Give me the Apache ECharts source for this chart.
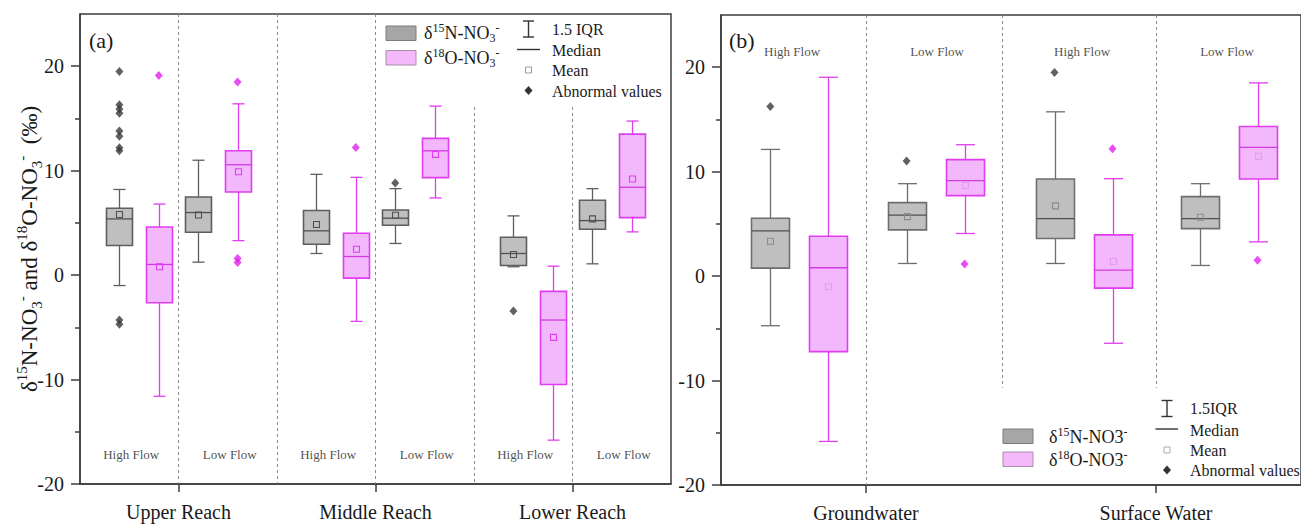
<!DOCTYPE html>
<html>
<head>
<meta charset="utf-8">
<script src="https://cdn.jsdelivr.net/npm/echarts@6.0.0/dist/echarts.min.js"></script>
<style>html,body{margin:0;padding:0;background:#fff;}#c{width:1301px;height:528px;}</style>
</head>
<body>
<div id="c"></div>
<script>
// ---------------- DATA ----------------
const reachesA = ['Upper Reach', 'Middle Reach', 'Lower Reach'];
const sourcesB = ['Groundwater', 'Surface Water'];
const flowNames = ['High Flow', 'Low Flow'];
const yTicks = [-20, -10, 0, 10, 20];
const yMinorTicks = [-15, -5, 5, 15];

// Panel (a): groups = Upper High, Upper Low, Middle High, Middle Low, Lower High, Lower Low
// stats: [whisker low, Q1, median, Q3, whisker high]
const aN = [[-1.0, 2.83, 5.38, 6.4, 8.2], [1.24, 4.1, 5.99, 7.48, 11.0], [2.07, 2.96, 4.24, 6.18, 9.65],
            [3.03, 4.78, 5.45, 6.24, 8.28], [0.8, 0.92, 2.07, 3.63, 5.67], [1.08, 4.39, 5.22, 7.17, 8.28]];
const aNmean = [5.8, 5.76, 4.84, 5.73, 1.97, 5.38];
const aNout = [[19.5, 16.3, 15.9, 15.5, 13.8, 13.3, 12.2, 11.9, -4.3, -4.7], [], [], [8.82], [-3.44], []];
const aO = [[-11.6, -2.64, 1.02, 4.6, 6.8], [3.3, 7.96, 10.57, 11.9, 16.4], [-4.43, -0.29, 1.78, 4.01, 9.36],
            [7.39, 9.33, 11.9, 13.09, 16.18], [-15.8, -10.48, -4.3, -1.56, 0.86], [4.14, 5.5, 8.41, 13.5, 14.75]];
const aOmean = [0.8, 9.9, 2.48, 11.56, -5.96, 9.2];
const aOout = [[19.1], [18.5, 1.6, 1.2], [12.23], [], [], []];

// Panel (b): groups = GW High, GW Low, SW High, SW Low
const bN = [[-4.75, 0.76, 4.33, 5.54, 12.13], [1.21, 4.43, 5.83, 7.04, 8.85],
            [1.21, 3.6, 5.51, 9.3, 15.73], [1.02, 4.55, 5.51, 7.61, 8.85]];
const bNmean = [3.34, 5.7, 6.72, 5.64];
const bNout = [[16.24], [11.02], [19.49], []];
const bO = [[-15.83, -7.23, 0.8, 3.82, 19.04], [4.08, 7.71, 9.14, 11.15, 12.58],
            [-6.43, -1.15, 0.57, 3.95, 9.33], [3.28, 9.3, 12.32, 14.33, 18.5]];
const bOmean = [-1.02, 8.69, 1.4, 11.46];
const bOout = [[], [1.15], [12.2], [1.53]];

// ---------------- LAYOUT (positions on the hidden x scale) ----------------
const L = {
  aNx: [1, 3, 6, 8, 11, 13], aOx: [2, 4, 7, 9, 12, 14],
  bNx: [1.7, 6.4, 11.5, 16.5], bOx: [3.7, 8.4, 13.5, 18.5],
  aCat: [2.5, 7.5, 12.5], bCat: [5, 15],
  aFlowX: [1.3, 3.8, 6.3, 8.8, 11.3, 13.8], aFlowY: -17.2,
  bFlowX: [2.45, 7.45, 12.45, 17.45], bFlowY: 21.5,
  aDashFull: [2.5, 5, 7.5], aDashPart: [10, 12.5], aDashPartTop: 16.1,
  bDashFull: [5], bDashPart: [9.7, 15], bDashPartBottom: -10.7
};

const FONT = 'Liberation Serif, Times New Roman, serif';
const C = {
  nFill: '#bfbfbf', nStroke: '#5e5e5e', nMed: '#505050', nOut: '#3a3a3a',
  oFill: '#f2b8fb', oStroke: '#e03cf0', oMed: '#d43ae4', oOut: '#e21ff0',
  axis: '#3c3c3c', dash: '#8a8a8a', text: '#1a1a1a'
};

function boxData(xs, stats, means) {
  return stats.map((s, i) => [xs[i], s[0], s[1], s[2], s[3], s[4], means[i]]);
}
function outData(xs, outs) {
  const r = [];
  outs.forEach((arr, i) => arr.forEach(v => r.push([xs[i], v])));
  return r;
}
function makeRender(boxW, capW, stroke, fill, med, meanC, lw) {
  return function (params, api) {
    const x = api.value(0);
    const lo = api.coord([x, api.value(1)]);
    const q1 = api.coord([x, api.value(2)]);
    const md = api.coord([x, api.value(3)]);
    const q3 = api.coord([x, api.value(4)]);
    const hi = api.coord([x, api.value(5)]);
    const mn = api.coord([x, api.value(6)]);
    const cx = Math.round(lo[0]) + 0.5;
    const hw = boxW / 2, hc = capW / 2;
    const ls = { stroke: stroke, lineWidth: lw };
    return {
      type: 'group', children: [
        { type: 'line', shape: { x1: cx, y1: q3[1], x2: cx, y2: hi[1] }, style: ls },
        { type: 'line', shape: { x1: cx, y1: q1[1], x2: cx, y2: lo[1] }, style: ls },
        { type: 'line', shape: { x1: cx - hc, y1: hi[1], x2: cx + hc, y2: hi[1] }, style: ls },
        { type: 'line', shape: { x1: cx - hc, y1: lo[1], x2: cx + hc, y2: lo[1] }, style: ls },
        { type: 'rect', shape: { x: cx - hw, y: q3[1], width: boxW, height: q1[1] - q3[1] },
          style: { fill: fill, stroke: stroke, lineWidth: lw + 0.3 } },
        { type: 'line', shape: { x1: cx - hw, y1: md[1], x2: cx + hw, y2: md[1] }, style: { stroke: med, lineWidth: lw } },
        { type: 'rect', shape: { x: cx - 3, y: mn[1] - 3, width: 6, height: 6 },
          style: { fill: 'none', stroke: meanC, lineWidth: 1.1 } }
      ]
    };
  };
}
function dashLines(full, part, top, bottom) {
  const d = [];
  full.forEach(x => d.push([{ coord: [x, 25] }, { coord: [x, -20] }]));
  part.forEach(x => d.push([{ coord: [x, top] }, { coord: [x, bottom] }]));
  return d;
}
function flowData(xs, y) {
  return xs.map((x, i) => [x, y, flowNames[i % 2]]);
}

const axisLineStyle = { color: C.axis, width: 1.5 };
function yAxes(grid) {
  const main = {
    gridIndex: grid, type: 'value', min: -20, max: 25, position: 'left',
    axisLine: { show: true, onZero: false, lineStyle: axisLineStyle },
    axisTick: { show: true, length: 9, customValues: yTicks, lineStyle: axisLineStyle },
    axisLabel: { customValues: yTicks, margin: 16, fontSize: 20, fontFamily: FONT, color: C.text },
    splitLine: { show: false }
  };
  const minor = {
    gridIndex: grid, type: 'value', min: -20, max: 25, position: 'left',
    axisLine: { show: false, onZero: false },
    axisTick: { show: true, length: 5, customValues: yMinorTicks, lineStyle: axisLineStyle },
    axisLabel: { show: false }, splitLine: { show: false }
  };
  return [main, minor];
}
function xAxis(grid, max, catPos, names) {
  return {
    gridIndex: grid, type: 'value', min: 0, max: max, position: 'bottom',
    axisLine: { show: true, onZero: false, lineStyle: axisLineStyle },
    axisTick: { show: true, length: 8, customValues: catPos, lineStyle: axisLineStyle },
    axisLabel: {
      customValues: catPos, margin: 18, fontSize: 20, fontFamily: FONT, color: C.text,
      formatter: v => { const i = catPos.findIndex(p => Math.abs(p - v) < 1e-6); return i >= 0 ? names[i] : ''; }
    },
    splitLine: { show: false }
  };
}

const dashStyle = { type: [3, 3], color: C.dash, width: 1 };
function seriesFor(xi, yi, nx, ox, nStats, nMean, oStats, oMean, nOut, oOut, boxW, capW, dash, flow, panelB) {
  const lw = 1.3;
  return [
    { type: 'custom', name: 'δ15N-NO3-', xAxisIndex: xi, yAxisIndex: yi,
      renderItem: makeRender(boxW, capW, panelB ? '#6e6e6e' : C.nStroke, C.nFill, C.nMed, panelB ? '#8c8c8c' : C.nMed, lw),
      encode: { x: 0, y: [1, 2, 3, 4, 5, 6] }, data: boxData(nx, nStats, nMean), z: 3 },
    { type: 'custom', name: 'δ18O-NO3-', xAxisIndex: xi, yAxisIndex: yi,
      renderItem: makeRender(boxW, capW, C.oStroke, C.oFill, C.oMed, panelB ? '#e79af3' : C.oStroke, lw),
      encode: { x: 0, y: [1, 2, 3, 4, 5, 6] }, data: boxData(ox, oStats, oMean), z: 3 },
    { type: 'scatter', name: 'N outliers', xAxisIndex: xi, yAxisIndex: yi, symbol: 'diamond', symbolSize: [8, 9],
      itemStyle: { color: C.nOut }, data: outData(nx, nOut), z: 4,
      markLine: { silent: true, symbol: ['none', 'none'], label: { show: false }, lineStyle: dashStyle,
        emphasis: { disabled: true }, data: dash } },
    { type: 'scatter', name: 'O outliers', xAxisIndex: xi, yAxisIndex: yi, symbol: 'diamond', symbolSize: [8, 9],
      itemStyle: { color: C.oOut }, data: outData(ox, oOut), z: 4 },
    { type: 'scatter', name: 'flow labels', xAxisIndex: xi, yAxisIndex: yi, symbolSize: 0, silent: true,
      data: flow, z: 5,
      label: { show: true, position: 'inside', formatter: p => p.value[2], fontSize: 13, fontFamily: FONT, color: '#222' } }
  ];
}

// ---------------- LEGENDS / TITLES (graphic) ----------------
const richLeg = {
  m: { fontSize: 18, fontFamily: FONT, fill: C.text, lineHeight: 22 },
  sup: { fontSize: 12, fontFamily: FONT, fill: C.text, verticalAlign: 'top', lineHeight: 12 },
  sub: { fontSize: 12, fontFamily: FONT, fill: C.text, verticalAlign: 'bottom', lineHeight: 12 }
};
const richName = {
  m: { fontSize: 23, fontFamily: FONT, fill: C.text, lineHeight: 30 },
  sup: { fontSize: 15, fontFamily: FONT, fill: C.text, verticalAlign: 'top', lineHeight: 15 },
  sub: { fontSize: 15, fontFamily: FONT, fill: C.text, verticalAlign: 'bottom', lineHeight: 15 }
};
const legTxt = { fontSize: 16, fontFamily: FONT, fill: C.text, verticalAlign: 'middle', textAlign: 'left' };
function txt(x, y, t, extra) {
  return { type: 'text', x: x, y: y, silent: true, style: Object.assign({ text: t }, legTxt, extra || {}) };
}
function keyIcons(cx, yW1, yW2, capHalf, medX1, medX2, yMed, yMean, yDia, meanStroke) {
  const s = { stroke: '#333', lineWidth: 1.4 };
  return [
    { type: 'line', silent: true, shape: { x1: cx, y1: yW1, x2: cx, y2: yW2 }, style: s },
    { type: 'line', silent: true, shape: { x1: cx - capHalf, y1: yW1, x2: cx + capHalf, y2: yW1 }, style: s },
    { type: 'line', silent: true, shape: { x1: cx - capHalf, y1: yW2, x2: cx + capHalf, y2: yW2 }, style: s },
    { type: 'line', silent: true, shape: { x1: medX1, y1: yMed, x2: medX2, y2: yMed }, style: s },
    { type: 'rect', silent: true, shape: { x: cx - 3, y: yMean - 3, width: 6, height: 6 }, style: { fill: '#fff', stroke: meanStroke, lineWidth: 1 } },
    { type: 'polygon', silent: true, shape: { points: [[cx, yDia - 4.5], [cx + 4, yDia], [cx, yDia + 4.5], [cx - 4, yDia]] }, style: { fill: '#333' } }
  ];
}
const yName = '{m|δ}{sup|15}{m|N-NO}{sub|3}{sup|-}{m| and δ}{sup|18}{m|O-NO}{sub|3}{sup|-}{m|  (‰)}';
const graphics = [
  { type: 'text', x: 29, y: 249, rotation: Math.PI / 2, silent: true,
    style: { text: yName, rich: richName, textAlign: 'center', verticalAlign: 'middle', fontFamily: FONT, fontSize: 23, fill: C.text } },
  txt(89, 40, '(a)', { fontSize: 22 }),
  txt(729, 40, '(b)', { fontSize: 22 }),
  // legend (a)
  { type: 'rect', silent: true, shape: { x: 386, y: 26, width: 30, height: 14.5 }, style: { fill: '#a6a6a6', stroke: '#7c7c7c', lineWidth: 1 } },
  { type: 'rect', silent: true, shape: { x: 386, y: 50.5, width: 30, height: 14.5 }, style: { fill: '#f3b9fa', stroke: '#a98da9', lineWidth: 1 } },
  txt(424, 33, '{m|δ}{sup|15}{m|N-NO}{sub|3}{sup|-}', { rich: richLeg }),
  txt(424, 57.5, '{m|δ}{sup|18}{m|O-NO}{sub|3}{sup|-}', { rich: richLeg }),
  txt(552, 29, '1.5 IQR'),
  txt(552, 50, 'Median'),
  txt(552, 70.5, 'Mean'),
  txt(552, 91, 'Abnormal values'),
  ...keyIcons(528.5, 21, 37, 5.5, 517, 540, 49.5, 70, 90.5, '#999'),
  // legend (b)
  { type: 'rect', silent: true, shape: { x: 1003, y: 429, width: 30, height: 14.5 }, style: { fill: '#a6a6a6', stroke: '#7c7c7c', lineWidth: 1 } },
  { type: 'rect', silent: true, shape: { x: 1003, y: 452, width: 30, height: 14.5 }, style: { fill: '#f3b9fa', stroke: '#a98da9', lineWidth: 1 } },
  txt(1049, 437, '{m|δ}{sup|15}{m|N-NO3}{sup|-}', { rich: richLeg }),
  txt(1049, 459.5, '{m|δ}{sup|18}{m|O-NO3}{sup|-}', { rich: richLeg }),
  txt(1190, 408.5, '1.5IQR'),
  txt(1190, 430, 'Median'),
  txt(1190, 450, 'Mean'),
  txt(1190, 470.5, 'Abnormal values'),
  ...keyIcons(1167, 400.5, 416.5, 5.5, 1155.5, 1178, 429, 450, 470, '#aaa')
];

const option = {
  animation: false,
  backgroundColor: '#ffffff',
  textStyle: { fontFamily: FONT },
  grid: [
    { left: 80, top: 14, width: 591, height: 470, show: true, borderColor: C.axis, borderWidth: 1.5, backgroundColor: 'transparent', containLabel: false },
    { left: 721, top: 15, width: 590, height: 470, show: true, borderColor: C.axis, borderWidth: 1.5, backgroundColor: 'transparent', containLabel: false }
  ],
  xAxis: [xAxis(0, 15, L.aCat, reachesA), xAxis(1, 20, L.bCat, sourcesB)],
  yAxis: [...yAxes(0), ...yAxes(1)],
  series: [
    ...seriesFor(0, 0, L.aNx, L.aOx, aN, aNmean, aO, aOmean, aNout, aOout, 26, 12,
      dashLines(L.aDashFull, L.aDashPart, L.aDashPartTop, -20), flowData(L.aFlowX, L.aFlowY), false),
    ...seriesFor(1, 2, L.bNx, L.bOx, bN, bNmean, bO, bOmean, bNout, bOout, 38, 19,
      dashLines(L.bDashFull, L.bDashPart, 25, L.bDashPartBottom), flowData(L.bFlowX, L.bFlowY), true)
  ],
  graphic: graphics
};

const chart = echarts.init(document.getElementById('c'), null, { renderer: 'svg', width: 1301, height: 528 });
chart.setOption(option);
</script>
</body>
</html>
